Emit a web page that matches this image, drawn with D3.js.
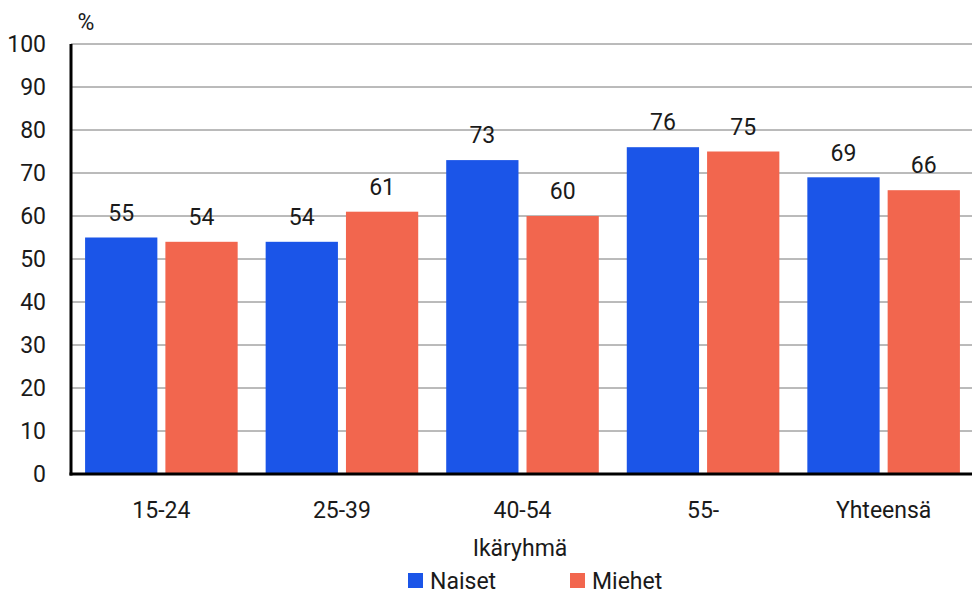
<!DOCTYPE html>
<html><head><meta charset="utf-8">
<script src="https://cdn.jsdelivr.net/npm/d3@7"></script>
<style>body{margin:0;background:#fff}svg{font-family:Roboto,"Noto Sans",sans-serif}</style>
</head><body><svg id="c" width="972" height="594"></svg>
<script>
const categories = ["15-24","25-39","40-54","55-","Yhteensä"];
const naiset = [55,54,73,76,69];
const miehet = [54,61,60,75,66];
const seriesNames = ["Naiset","Miehet"];
const colors = ["#1b55e8","#f2664e"];
const yTicks = [0,10,20,30,40,50,60,70,80,90,100];

(function(){
const svg = d3.select("#c");
const mLeft = 71, mRight = 974, mTop = 44, mBottom = 474;
const fs = 23, tc = "#1a1a1a";
const x = d3.scaleBand().domain(categories).range([mLeft, mRight]).paddingInner(0.155).paddingOuter(0.078);
const xs = d3.scaleBand().domain(seriesNames).range([0, x.bandwidth()]).paddingInner(0.1);
const y = d3.scaleLinear().domain([0,100]).range([mBottom, mTop]);

svg.append("g").selectAll("line").data(yTicks.filter(d=>d>0)).join("line")
  .attr("x1", mLeft).attr("x2", 972).attr("y1", d=>y(d)).attr("y2", d=>y(d))
  .attr("stroke", "#777").attr("stroke-width", 1);

svg.append("g").selectAll("text").data(yTicks).join("text")
  .attr("x", 46).attr("y", d=>y(d)).attr("dy","0.36em").attr("text-anchor","end")
  .attr("font-size", fs).attr("fill",tc).text(d=>d);

svg.append("text").attr("x", 86).attr("y", 22).attr("dy","0.36em").attr("text-anchor","middle")
  .attr("font-size", fs).attr("fill",tc).text("%");

const data = categories.map((c,i)=>({c, vals:[naiset[i], miehet[i]]}));
const g = svg.append("g").selectAll("g").data(data).join("g")
  .attr("transform", d=>`translate(${x(d.c)},0)`);
g.selectAll("rect").data(d=>d.vals.map((v,j)=>({v,s:seriesNames[j],j}))).join("rect")
  .attr("x", d=>xs(d.s)).attr("width", xs.bandwidth())
  .attr("y", d=>y(d.v)).attr("height", d=>mBottom - y(d.v))
  .attr("fill", d=>colors[d.j]);
g.selectAll("text").data(d=>d.vals.map((v,j)=>({v,s:seriesNames[j],j}))).join("text")
  .attr("x", d=>xs(d.s)+xs.bandwidth()/2).attr("y", d=>y(d.v)-25).attr("dy","0.36em")
  .attr("text-anchor","middle").attr("font-size", fs).attr("fill",tc).text(d=>d.v);

svg.append("line").attr("x1", mLeft).attr("x2", mLeft).attr("y1", mTop).attr("y2", mBottom+1.5)
  .attr("stroke","#000").attr("stroke-width",3);
svg.append("line").attr("x1", mLeft-1.5).attr("x2", 972).attr("y1", mBottom).attr("y2", mBottom)
  .attr("stroke","#000").attr("stroke-width",3);

svg.append("g").selectAll("text").data(categories).join("text")
  .attr("x", d=>x(d)+x.bandwidth()/2).attr("y", 510).attr("dy","0.36em").attr("text-anchor","middle")
  .attr("font-size", fs).attr("fill",tc).text(d=>d);

svg.append("text").attr("x", 520).attr("y", 548).attr("dy","0.36em").attr("text-anchor","middle")
  .attr("font-size", fs).attr("fill",tc).text("Ikäryhmä");

const legX = [408, 570];
const lg = svg.append("g").selectAll("g").data(seriesNames).join("g")
  .attr("transform",(d,i)=>`translate(${legX[i]},573)`);
lg.append("rect").attr("width",15).attr("height",15).attr("fill",(d,i)=>colors[i]);
lg.append("text").attr("x",22).attr("y",7.5).attr("dy","0.36em").attr("font-size",fs).attr("fill",tc).text(d=>d);
})();
</script></body></html>
